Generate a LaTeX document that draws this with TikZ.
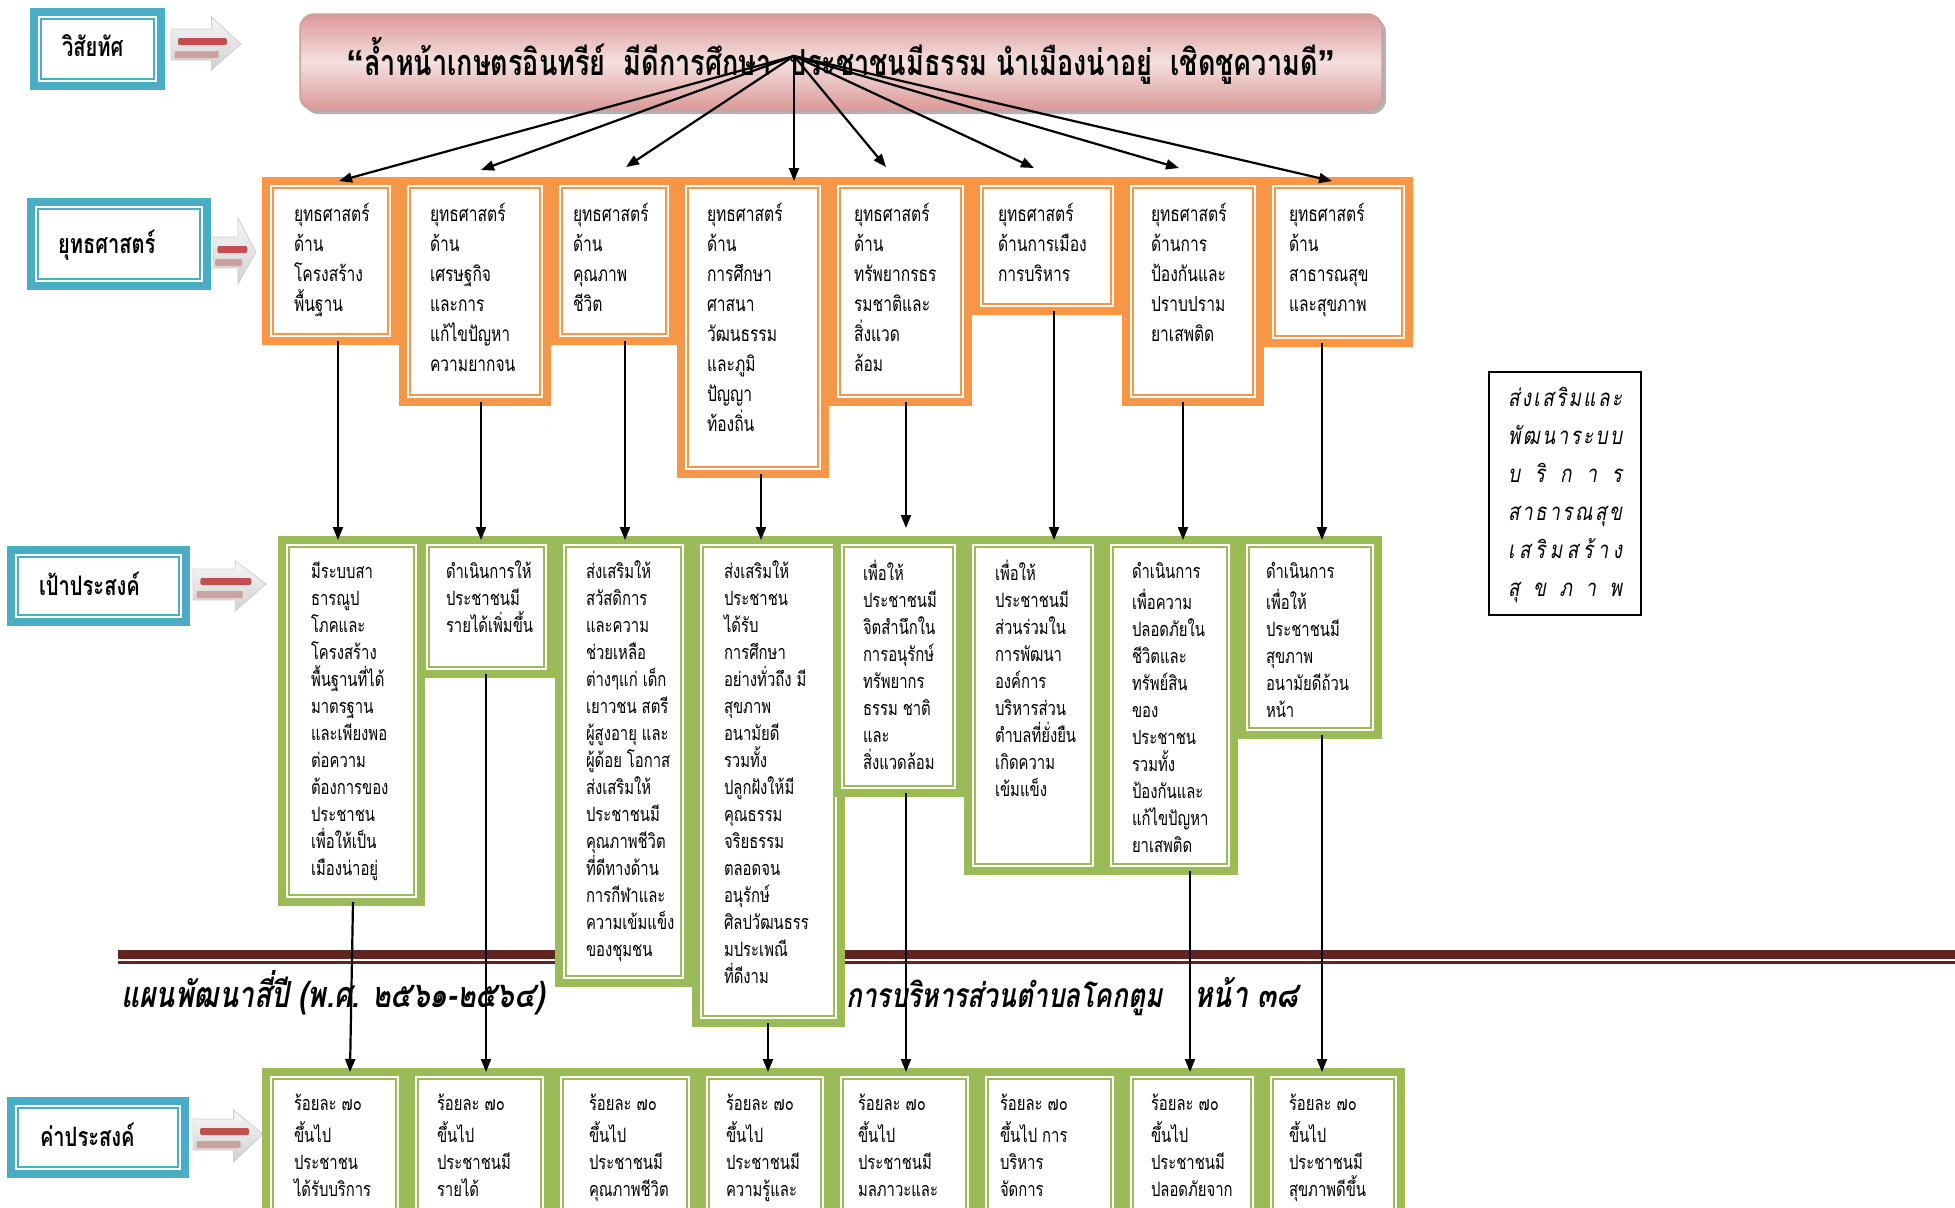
\documentclass[tikz,border=0pt]{standalone}
\usepackage{fontspec}
\usetikzlibrary{arrows.meta,shadows}
\newfontfamily\thai[Script=Thai,FakeStretch=0.75]{Loma}
\newfontfamily\thaisl[Script=Thai,FakeStretch=0.78,FakeSlant=0.18]{Loma}
\newfontfamily\quotef{Liberation Sans}
\newlength\pxu \setlength\pxu{0.5pt}
\definecolor{sorange}{HTML}{F79646}
\definecolor{ggreen}{HTML}{9BBB59}
\definecolor{lblue}{HTML}{4BACC6}
\definecolor{maroon}{HTML}{622423}
\definecolor{rbar}{HTML}{C0504D}
\definecolor{pbar}{HTML}{C9A3A2}
\definecolor{tpinkl}{HTML}{F4E0DF}
\definecolor{tpinkd}{HTML}{DA9998}
\definecolor{tedge}{HTML}{C8A2A1}
\definecolor{agrayl}{HTML}{F7F7F7}
\definecolor{agrayd}{HTML}{D0D0D0}
\tikzset{
  fbx/.style={rectangle, fill=white, line width=4pt, inner sep=0pt, outer sep=0pt, anchor=north west},
  arr/.style={-{Triangle[length=6.5pt,width=5pt]}, line width=1.1pt, black},
  tbox/.style={rounded corners=7pt, draw=tedge, line width=0.75pt, top color=tpinkd, bottom color=tpinkd, middle color=tpinkl, drop shadow={shadow xshift=2pt, shadow yshift=-2pt, opacity=0.3, fill=black}, inner sep=0pt},
  rbx/.style={draw=black, line width=1pt, fill=white, inner sep=0pt, anchor=north west},
  ftxt/.style={anchor=base west, inner sep=0pt, font=\thaisl\bfseries\fontsize{18pt}{20pt}\selectfont}
}
\newcommand\mkbox[8]{%
  \pgfmathsetmacro\mkbw{(#5-#3-8)/2}%
  \pgfmathsetmacro\mkbh{(#6-#4-8)/2}%
  \node[fbx, draw=#2, minimum width=\mkbw pt, minimum height=\mkbh pt] (#1) at (#3+4,#4+4)
    {\parbox[c][\mkbh pt][t]{\mkbw pt}{#7#8}};
  \draw[#2, line width=1pt] ([shift={(7,7)}]#1.north west) rectangle ([shift={(-7,-7)}]#1.south east);
}
\newcommand\sfmt[1]{\thai\fontsize{10.4pt}{15pt}\selectfont\raggedright\leftskip=#1\pxu\relax\vspace*{9.5pt}\strut}
\newcommand\gfmt[1]{\thai\fontsize{9.9pt}{13.5pt}\selectfont\raggedright\leftskip=#1\pxu\relax\vspace*{10pt}\strut}
\newcommand\lfmt[2]{\thai\bfseries\fontsize{13.4pt}{14pt}\selectfont\raggedright\leftskip=#1\pxu\relax\vspace*{#2\pxu}\strut}
\newcommand\larrow[5]{%
  \pgfmathsetmacro\law{#3-#1}%
  \path[top color=agrayl, bottom color=agrayd, draw=agrayd, line width=0.4pt]
    (#1,#5-15) -- (#1+0.58*\law,#5-15) -- (#1+0.58*\law,#2) -- (#3,#5) -- (#1+0.58*\law,#4) -- (#1+0.58*\law,#5+16) -- (#1,#5+16) -- cycle;
  \fill[pbar, rounded corners=0.5pt] (#1+0.05*\law,#5+7) rectangle (#1+0.68*\law,#5+14);
  \fill[rbar, rounded corners=1pt] (#1+0.1*\law,#5-6) rectangle (#1+0.8*\law,#5+1);
}
\begin{document}
\begin{tikzpicture}[x=0.5pt,y=-0.5pt]
\useasboundingbox (0,0) rectangle (1955,1207);
\clip (0,0) rectangle (1955,1207);
\fill[white] (0,0) rectangle (1955,1207);

% footer
\fill[maroon] (118,950) rectangle (1955,959);
\fill[maroon] (118,961) rectangle (1955,963.5);
\node[ftxt] (ft1) at (121,1007) {แผนพัฒนาสี่ปี (พ.ศ. ๒๕๖๑-๒๕๖๔)};
\node[ftxt, font=\thaisl\bfseries\fontsize{16.8pt}{20pt}\selectfont] (ft2) at (846,1007) {การบริหารส่วนตำบลโคกตูม};
\node[ftxt] (ft3) at (1194,1007) {หน้า ๓๘};

% title
\node[tbox, minimum width=541pt, minimum height=48pt] (title) at (841,62)
  {\raisebox{5.5pt}{\thai\bfseries\fontsize{18pt}{18pt}\selectfont{\quotef“}ล้ำหน้าเกษตรอินทรีย์~~มีดีการศึกษา~~ประชาชนมีธรรม นำเมืองน่าอยู่~~เชิดชูความดี{\quotef”}}};
\coordinate (hub) at (794,56);

% labels
\mkbox{L1}{lblue}{30}{8}{165}{90}{\lfmt{28}{23}}{วิสัยทัศ}
\mkbox{L2}{lblue}{27}{198}{211}{290}{\lfmt{27}{28}}{ยุทธศาสตร์}
\mkbox{L3}{lblue}{7}{546}{190}{626}{\lfmt{28}{22}}{เป้าประสงค์}
\mkbox{L4}{lblue}{7}{1097}{189}{1178}{\lfmt{29}{22}}{ค่าประสงค์}
\larrow{171}{17}{241}{70}{44}
\larrow{213}{218}{256}{284}{252}
\larrow{193}{561}{266}{611}{584}
\larrow{193}{1110}{263}{1162}{1134}

% strategies
\mkbox{s1}{sorange}{262}{177}{399}{345}{\sfmt{28}}{ยุทธศาสตร์\\ด้าน\\โครงสร้าง\\พื้นฐาน}
\mkbox{s2}{sorange}{399}{177}{551}{406}{\sfmt{27}}{ยุทธศาสตร์\\ด้าน\\เศรษฐกิจ\\และการ\\แก้ไขปัญหา\\ความยากจน}
\mkbox{s3}{sorange}{551}{177}{677}{345}{\sfmt{18}}{ยุทธศาสตร์\\ด้าน\\คุณภาพ\\ชีวิต}
\mkbox{s4}{sorange}{677}{177}{829}{478}{\sfmt{26}}{ยุทธศาสตร์\\ด้าน\\การศึกษา\\ศาสนา\\วัฒนธรรม\\และภูมิ\\ปัญญา\\ท้องถิ่น}
\mkbox{s5}{sorange}{829}{177}{972}{406}{\sfmt{21}}{ยุทธศาสตร์\\ด้าน\\ทรัพยากรธร\\รมชาติและ\\สิ่งแวด\\ล้อม}
\mkbox{s6}{sorange}{972}{177}{1122}{315}{\sfmt{22}}{ยุทธศาสตร์\\ด้านการเมือง\\การบริหาร}
\mkbox{s7}{sorange}{1122}{177}{1264}{406}{\sfmt{25}}{ยุทธศาสตร์\\ด้านการ\\ป้องกันและ\\ปราบปราม\\ยาเสพติด}
\mkbox{s8}{sorange}{1264}{177}{1413}{347}{\sfmt{21}}{ยุทธศาสตร์\\ด้าน\\สาธารณสุข\\และสุขภาพ}

% goals
\mkbox{g1}{ggreen}{278}{536}{425}{906}{\gfmt{29}}{มีระบบสา\\ธารณูป\\โภคและ\\โครงสร้าง\\พื้นฐานที่ได้\\มาตรฐาน\\และเพียงพอ\\ต่อความ\\ต้องการของ\\ประชาชน\\เพื่อให้เป็น\\เมืองน่าอยู่}
\mkbox{g2}{ggreen}{418}{536}{555}{678}{\gfmt{24}}{ดำเนินการให้\\ประชาชนมี\\รายได้เพิ่มขึ้น}
\mkbox{g3}{ggreen}{555}{536}{692}{987}{\gfmt{27}}{ส่งเสริมให้\\สวัสดิการ\\และความ\\ช่วยเหลือ\\ต่างๆแก่~เด็ก\\เยาวชน~สตรี\\ผู้สูงอายุ~และ\\ผู้ด้อย~โอกาส\\ส่งเสริมให้\\ประชาชนมี\\คุณภาพชีวิต\\ที่ดีทางด้าน\\การกีฬาและ\\ความเข้มแข็ง\\ของชุมชน}
\mkbox{g4}{ggreen}{692}{536}{845}{1027}{\gfmt{28}}{ส่งเสริมให้\\ประชาชน\\ได้รับ\\การศึกษา\\อย่างทั่วถึง~มี\\สุขภาพ\\อนามัยดี\\รวมทั้ง\\ปลูกฝังให้มี\\คุณธรรม\\จริยธรรม\\ตลอดจน\\อนุรักษ์\\ศิลปวัฒนธรร\\มประเพณี\\ที่ดีงาม}
\mkbox{g5}{ggreen}{833}{536}{964}{797}{\gfmt{26}}{เพื่อให้\\ประชาชนมี\\จิตสำนึกใน\\การอนุรักษ์\\ทรัพยากร\\ธรรม~ชาติ\\และ\\สิ่งแวดล้อม}
\mkbox{g6}{ggreen}{964}{536}{1102}{875}{\gfmt{27}}{เพื่อให้\\ประชาชนมี\\ส่วนร่วมใน\\การพัฒนา\\องค์การ\\บริหารส่วน\\ตำบลที่ยั่งยืน\\เกิดความ\\เข้มแข็ง}
\mkbox{g7}{ggreen}{1102}{536}{1238}{875}{\gfmt{26}}{ดำเนินการ\\เพื่อความ\\ปลอดภัยใน\\ชีวิตและ\\ทรัพย์สิน\\ของ\\ประชาชน\\รวมทั้ง\\ป้องกันและ\\แก้ไขปัญหา\\ยาเสพติด}
\mkbox{g8}{ggreen}{1238}{536}{1382}{739}{\gfmt{24}}{ดำเนินการ\\เพื่อให้\\ประชาชนมี\\สุขภาพ\\อนามัยดีถ้วน\\หน้า}

% indicators
\mkbox{i1}{ggreen}{262}{1068}{407}{1240}{\gfmt{28}}{ร้อยละ~๗๐\\ขึ้นไป\\ประชาชน\\ได้รับบริการ}
\mkbox{i2}{ggreen}{407}{1068}{552}{1240}{\gfmt{26}}{ร้อยละ~๗๐\\ขึ้นไป\\ประชาชนมี\\รายได้}
\mkbox{i3}{ggreen}{552}{1068}{698}{1240}{\gfmt{33}}{ร้อยละ~๗๐\\ขึ้นไป\\ประชาชนมี\\คุณภาพชีวิต}
\mkbox{i4}{ggreen}{698}{1068}{832}{1240}{\gfmt{24}}{ร้อยละ~๗๐\\ขึ้นไป\\ประชาชนมี\\ความรู้และ}
\mkbox{i5}{ggreen}{832}{1068}{977}{1240}{\gfmt{22}}{ร้อยละ~๗๐\\ขึ้นไป\\ประชาชนมี\\มลภาวะและ}
\mkbox{i6}{ggreen}{977}{1068}{1122}{1240}{\gfmt{19}}{ร้อยละ~๗๐\\ขึ้นไป~การ\\บริหาร\\จัดการ}
\mkbox{i7}{ggreen}{1122}{1068}{1262}{1240}{\gfmt{25}}{ร้อยละ~๗๐\\ขึ้นไป\\ประชาชนมี\\ปลอดภัยจาก}
\mkbox{i8}{ggreen}{1262}{1068}{1405}{1240}{\gfmt{23}}{ร้อยละ~๗๐\\ขึ้นไป\\ประชาชนมี\\สุขภาพดีขึ้น}

% right box
\node[rbx, minimum width=76pt, minimum height=121.5pt] (rb) at (1488,371)
  {\parbox[c][121.5pt][t]{76pt}{\centering\thaisl\fontsize{12pt}{19pt}\selectfont\vspace*{4pt}\strut
   \makebox[57pt][s]{ส่\hfill ง\hfill เ\hfill ส\hfill ริ\hfill ม\hfill แ\hfill ล\hfill ะ}\\
   \makebox[57pt][s]{พั\hfill ฒ\hfill น\hfill า\hfill ร\hfill ะ\hfill บ\hfill บ}\\
   \makebox[57pt][s]{บ\hfill ริ\hfill ก\hfill า\hfill ร}\\
   \makebox[57pt][s]{ส\hfill า\hfill ธ\hfill า\hfill ร\hfill ณ\hfill สุ\hfill ข}\\
   \makebox[57pt][s]{เ\hfill ส\hfill ริ\hfill ม\hfill ส\hfill ร้\hfill า\hfill ง}\\
   \makebox[57pt][s]{สุ\hfill ข\hfill ภ\hfill า\hfill พ}}};

% connectors: vision -> strategies
\draw[arr] (hub) -- ([shift={(8.5,0)}]s1.north);
\draw[arr] (hub) -- ([shift={(6,-11)}]s2.north);
\draw[arr] (hub) -- ([shift={(12,-14)}]s3.north);
\draw[arr] (hub) -- (s4.north -| hub);
\draw[arr] (hub) -- ([shift={(-14.5,-14)}]s5.north);
\draw[arr] (hub) -- ([shift={(-13,-13)}]s6.north);
\draw[arr] (hub) -- ([shift={(-14,-13)}]s7.north);
\draw[arr] (hub) -- ([shift={(-6.5,0)}]s8.north);
% strategies -> goals
\draw[arr] ([shift={(7.5,0)}]s1.south) -- ([shift={(-13.5,0)}]g1.north);
\draw[arr] ([shift={(6,0)}]s2.south) -- ([shift={(-5.5,0)}]g2.north);
\draw[arr] ([shift={(11,0)}]s3.south) -- ([shift={(1.5,0)}]g3.north);
\draw[arr] ([shift={(8,0)}]s4.south) -- ([shift={(-7.5,0)}]g4.north);
\draw[arr] ([shift={(5.5,0)}]s5.south) -- ([shift={(7.5,-12)}]g5.north);
\draw[arr] ([shift={(7,0)}]s6.south) -- ([shift={(21,0)}]g6.north);
\draw[arr] ([shift={(-10,0)}]s7.south) -- ([shift={(13,0)}]g7.north);
\draw[arr] ([shift={(-16.5,0)}]s8.south) -- ([shift={(12,0)}]g8.north);
% goals -> indicators
\draw[arr] ([shift={(1.5,0)}]g1.south) -- ([shift={(15.5,0)}]i1.north);
\draw[arr] ([shift={(-0.5,0)}]g2.south) -- ([shift={(6.5,0)}]i2.north);
\draw[arr] ([shift={(-0.5,0)}]g4.south) -- ([shift={(3,0)}]i4.north);
\draw[arr] ([shift={(7.5,0)}]g5.south) -- ([shift={(1.5,0)}]i5.north);
\draw[arr] ([shift={(20,0)}]g7.south) -- ([shift={(-2,0)}]i7.north);
\draw[arr] ([shift={(12,0)}]g8.south) -- ([shift={(-11.5,0)}]i8.north);
\end{tikzpicture}
\end{document}
